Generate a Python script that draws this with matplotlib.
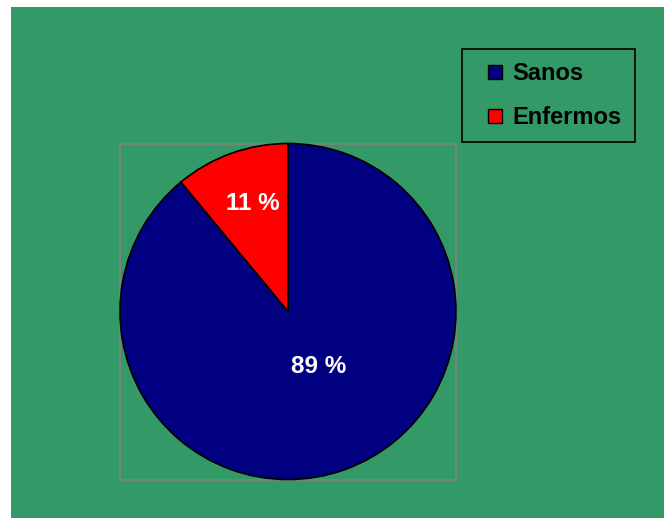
import matplotlib
matplotlib.use('Agg')
import matplotlib.pyplot as plt
from matplotlib.lines import Line2D
from matplotlib.patches import Rectangle

# Datos
categorias = ['Sanos', 'Enfermos']
valores = [89, 11]
colores = ['#000080', '#FF0000']
pos_etiquetas = [(0.18, -0.33), (-0.21, 0.64)]

verde = '#339966'
plt.rcParams['font.family'] = ['Liberation Sans', 'DejaVu Sans']

fig = plt.figure(figsize=(6.64, 5.18), dpi=100, facecolor='white')
fig.patches.append(Rectangle((11 / 664, 0), 1, 1 - 7 / 518, transform=fig.transFigure,
                             facecolor=verde, edgecolor='none', zorder=-1))

ax = fig.add_axes([120 / 664, 38 / 518, 336 / 664, 337 / 518])
wedges, texts, autotexts = ax.pie(valores, colors=colores, startangle=90, counterclock=False,
                                  autopct='%d %%', pctdistance=0.5,
                                  wedgeprops=dict(edgecolor='black', linewidth=1.2),
                                  textprops=dict(color='white', fontsize=17.5, fontweight='bold'))
ax.set_xlim(-1, 1)
ax.set_ylim(-1, 1)
for w in wedges:
    w.set_clip_on(False)

for t, p in zip(autotexts, pos_etiquetas):
    t.set_position(p)

ax.set_frame_on(True)
ax.set_facecolor(verde)
for s in ax.spines.values():
    s.set_color('#808080')
    s.set_linewidth(1.2)
    s.set_zorder(0)

handles = [Line2D([], [], linestyle='none', marker='s', markersize=10,
                  markerfacecolor=c, markeredgecolor='black', markeredgewidth=1)
           for c in colores]
leg = fig.legend(handles, categorias, loc='upper left',
                 bbox_to_anchor=(462 / 664, 1 - 49 / 518), borderaxespad=0,
                 prop=dict(size=17, weight='bold'), frameon=True, fancybox=False,
                 edgecolor='black', facecolor=verde, framealpha=1,
                 borderpad=0.55, labelspacing=0.9, handlelength=1.7, handletextpad=-0.1)
leg.get_frame().set_linewidth(1.2)

fig.savefig('out.png', dpi=100)
